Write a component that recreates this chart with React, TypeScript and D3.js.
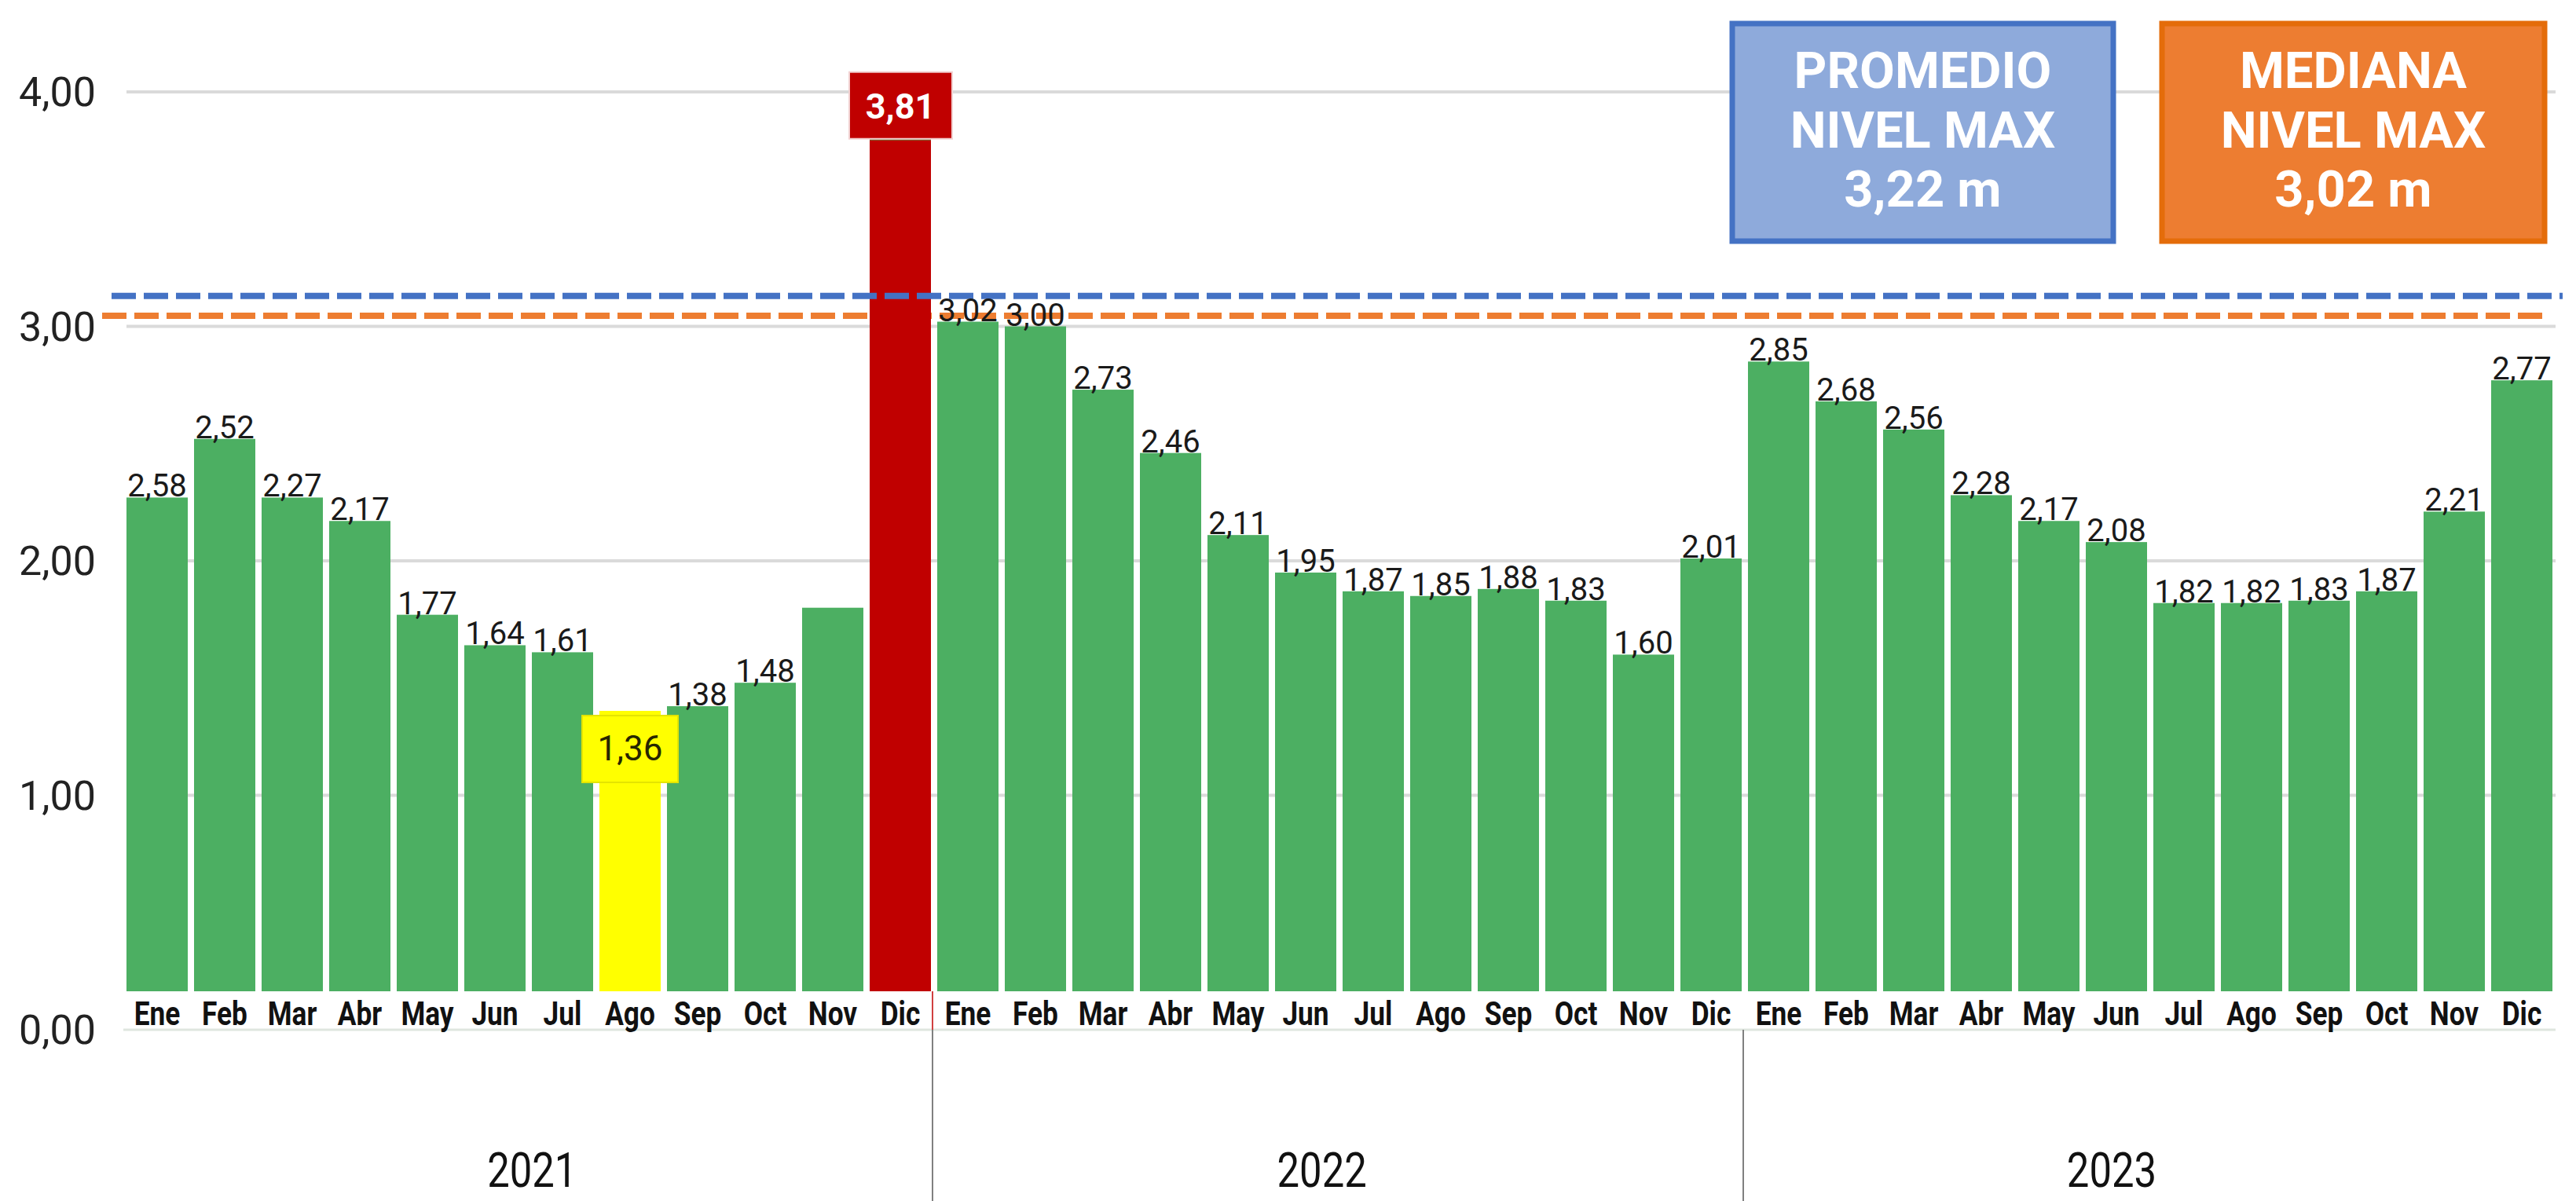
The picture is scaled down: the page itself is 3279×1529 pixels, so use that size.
import React from "react";
import * as d3 from "d3";

const months = ["Ene", "Feb", "Mar", "Abr", "May", "Jun", "Jul", "Ago", "Sep", "Oct", "Nov", "Dic"];
const years = ["2021", "2022", "2023"];

// bar levels as drawn against the y axis
const levels2021 = [2.27, 2.52, 2.27, 2.17, 1.77, 1.64, 1.61, 1.36, 1.38, 1.48, 1.8, 3.81];
const levels2022 = [3.02, 3.0, 2.73, 2.46, 2.11, 1.95, 1.87, 1.85, 1.88, 1.83, 1.6, 2.01];
const levels2023 = [2.85, 2.68, 2.56, 2.28, 2.17, 2.08, 1.82, 1.82, 1.83, 1.87, 2.21, 2.77];

// data labels as printed on the chart
const labels2021 = ["2,58", "2,52", "2,27", "2,17", "1,77", "1,64", "1,61", "1,36", "1,38", "1,48", "", "3,81"];

const yTicks = [0, 1, 2, 3, 4];

const minIndex = 7; // Ago 2021
const maxIndex = 11; // Dic 2021

const promedioText = ["PROMEDIO", "NIVEL MAX", "3,22 m"];
const medianaText = ["MEDIANA", "NIVEL MAX", "3,02 m"];
const promedioLineLevel = 3.13;
const medianaLineLevel = 3.045;

const W = 3279;
const H = 1529;
const GREEN = "#4caf62";
const RED = "#c00000";
const YELLOW = "#ffff00";
const BLUE = "#4472c4";
const ORANGE = "#ed7d31";
const FONT = "Roboto, 'Liberation Sans', Arial, sans-serif";

const fmt = (v: number) => d3.format(".2f")(v).replace(".", ",");

export default function App() {
  const levels = [...levels2021, ...levels2022, ...levels2023];
  const labels = [...labels2021, ...levels2022.map(fmt), ...levels2023.map(fmt)];
  const monthLabels = [...months, ...months, ...months];
  const n = levels.length;

  const x = d3
    .scaleBand<number>()
    .domain(d3.range(n))
    .range([157, 3253])
    .paddingInner(0.093)
    .paddingOuter(0.0465);
  const y = d3.scaleLinear().domain([0, 4]).range([1311, 117]);
  const step = x.step();
  const bw = x.bandwidth();

  const bandTop = 1262;
  const baseY = y(0);

  const yearCenter = (g: number) => x.range()[0] + (g * 12 + 6.05 - 0.31 * g) * step;
  const sepX = (g: number) => x.range()[0] + g * 12 * step - 2;

  const barColor = (i: number) => (i === minIndex ? YELLOW : i === maxIndex ? RED : GREEN);

  const cx = (i: number) => (x(i) as number) + bw / 2;

  return (
    <svg
      width={W}
      height={H}
      style={{ position: "absolute", left: 0, top: 0, display: "block", background: "#fff" }}
      fontFamily={FONT}
    >
      <rect x={0} y={0} width={W} height={H} fill="#fff" />
      {/* gridlines */}
      {yTicks
        .filter((t) => t > 0)
        .map((t) => (
          <line key={"g" + t} x1={161} x2={3253} y1={y(t)} y2={y(t)} stroke="#dadada" strokeWidth={4} />
        ))}
      {/* y tick labels */}
      {yTicks.map((t) => (
        <text key={"yt" + t} x={122} y={y(t) + 18} textAnchor="end" fontSize={52} fill="#222">
          {fmt(t)}
        </text>
      ))}
      {/* green / yellow bars */}
      {levels.map((v, i) =>
        i === maxIndex ? null : (
          <rect key={"b" + i} x={x(i)} y={y(v)} width={bw} height={baseY - y(v)} fill={barColor(i)} />
        )
      )}
      {/* orange median line (behind red bar) */}
      <line
        x1={130}
        x2={3240}
        y1={y(medianaLineLevel)}
        y2={y(medianaLineLevel)}
        stroke={ORANGE}
        strokeWidth={8}
        strokeDasharray="31 10"
      />
      {/* red max bar */}
      <rect
        x={x(maxIndex)}
        y={y(levels[maxIndex])}
        width={bw}
        height={baseY - y(levels[maxIndex])}
        fill={RED}
      />
      <rect x={x(maxIndex)} y={y(levels[maxIndex]) + 1} width={bw} height={4} fill="#6f7a3a" />
      {/* blue average line */}
      <line
        x1={142}
        x2={3262}
        y1={y(promedioLineLevel)}
        y2={y(promedioLineLevel)}
        stroke={BLUE}
        strokeWidth={8}
        strokeDasharray="31 10"
      />
      {/* month label band */}
      <rect x={157} y={bandTop} width={3253 - 157} height={baseY - bandTop} fill="#fff" />
      <line x1={157} x2={3253} y1={baseY} y2={baseY} stroke="#dfe6df" strokeWidth={3} />
      {monthLabels.map((m, i) => (
        <text
          key={"m" + i}
          transform={`translate(${cx(i)},${1305}) scale(0.84,1)`}
          textAnchor="middle"
          fontSize={42}
          fontWeight="bold"
          fill="#111"
        >
          {m}
        </text>
      ))}
      {/* group separators */}
      {[1, 2].map((g) => (
        <line key={"s" + g} x1={sepX(g)} x2={sepX(g)} y1={baseY} y2={H} stroke="#808080" strokeWidth={2} />
      ))}
      <line x1={sepX(1)} x2={sepX(1)} y1={bandTop} y2={baseY} stroke="#d04040" strokeWidth={2} />
      {/* year labels */}
      {years.map((yr, g) => (
        <text
          key={"y" + yr}
          transform={`translate(${yearCenter(g)},${1511}) scale(0.82,1)`}
          textAnchor="middle"
          fontSize={62}
          fill="#111"
        >
          {yr}
        </text>
      ))}
      {/* data labels */}
      {labels.map((l, i) => {
        if (!l || i === minIndex || i === maxIndex) return null;
        return (
          <text key={"l" + i} x={cx(i)} y={y(levels[i]) - 1} textAnchor="middle" fontSize={40} fill="#1a1a1a">
            {l}
          </text>
        );
      })}
      {/* min label box */}
      <g>
        <rect
          x={cx(minIndex) - 61}
          y={y(levels[minIndex]) + 6}
          width={122}
          height={85}
          fill={YELLOW}
          stroke="#e4e400"
          strokeWidth={2}
        />
        <text
          x={cx(minIndex)}
          y={y(levels[minIndex]) + 63}
          textAnchor="middle"
          fontSize={44}
          fill="#262600"
        >
          {labels[minIndex]}
        </text>
      </g>
      {/* max label box */}
      <g>
        <rect
          x={cx(maxIndex) - 65}
          y={y(levels[maxIndex]) - 82}
          width={131}
          height={85}
          fill={RED}
          stroke="#f2d2d2"
          strokeWidth={2}
        />
        <text
          x={cx(maxIndex)}
          y={y(levels[maxIndex]) - 23}
          textAnchor="middle"
          fontSize={45}
          fontWeight="bold"
          fill="#fff"
        >
          {labels[maxIndex]}
        </text>
      </g>
      {/* summary boxes */}
      {[
        { x0: 2205, x1: 2690, fill: "#8eaadb", stroke: BLUE, text: promedioText },
        { x0: 2752, x1: 3239, fill: ORANGE, stroke: "#e46c0a", text: medianaText },
      ].map((b, k) => (
        <g key={"box" + k}>
          <rect x={b.x0} y={30} width={b.x1 - b.x0} height={277} fill={b.fill} stroke={b.stroke} strokeWidth={7} />
          {b.text.map((t, j) => (
            <text
              key={j}
              x={(b.x0 + b.x1) / 2}
              y={112 + j * 75.5}
              textAnchor="middle"
              fontSize={65}
              fontWeight="bold"
              fill="#fff"
            >
              {t}
            </text>
          ))}
        </g>
      ))}
    </svg>
  );
}
